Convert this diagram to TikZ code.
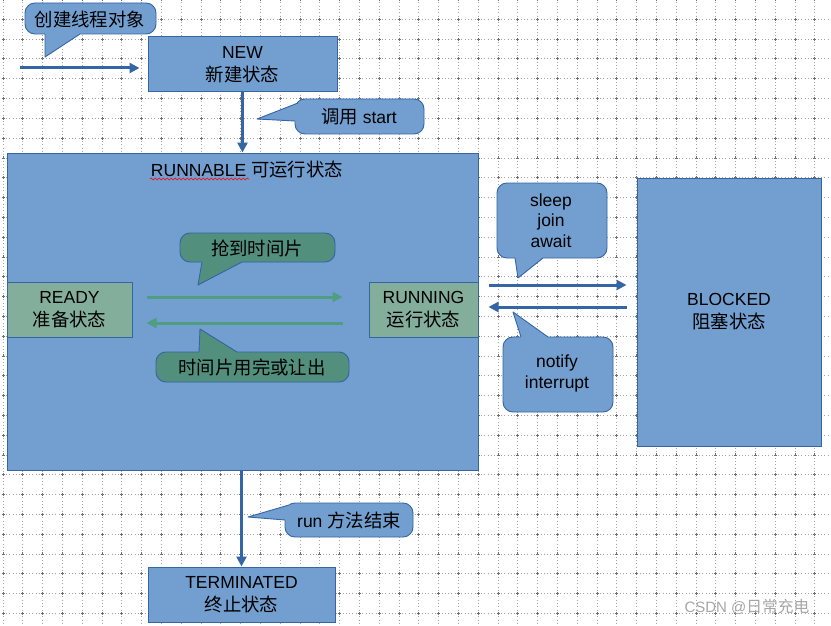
\documentclass[tikz,border=0pt]{standalone}
\usepackage{fontspec}
\setmainfont{Liberation Sans}
\newfontfamily\cjk[Scale=1.05]{Noto Sans CJK SC}
\usetikzlibrary{arrows.meta,decorations.pathmorphing,calc}
\definecolor{bfill}{HTML}{729FCF}
\definecolor{bline}{HTML}{3465A4}
\definecolor{gfill}{HTML}{84AE9C}
\definecolor{gcall}{HTML}{528F7C}
\definecolor{garr}{HTML}{4F9E80}
\definecolor{dotc}{HTML}{A4A4A4}
\definecolor{crossc}{HTML}{707070}
\definecolor{wmark}{HTML}{A6A6A6}
\newcommand\mycallout[9]{%
  \draw[cline, fill=#1, rounded corners=10pt] (#2,#3) rectangle (#4,#5);
  \fill[#1] ($#6+#9$) -- #6 -- #7 -- #8 -- ($#8+#9$) -- cycle;
  \draw[cline] #6 -- #7 -- #8;
}
\begin{document}
\begin{tikzpicture}[x=1pt, y=-1pt,
  font=\fontsize{17.5}{23}\selectfont,
  box/.style={draw=bline, line width=1pt, fill=bfill, inner sep=0pt, align=center},
  gbox/.style={box, fill=gfill},
  cline/.style={draw=bline, line width=0.9pt, line join=round},
  barrow/.style={draw=bline, line width=3pt, -{Triangle[length=10pt,width=10pt]}},
  garrow/.style={draw=garr, line width=3pt, -{Triangle[length=10pt,width=10pt]}},
  lbl/.style={align=center, inner sep=0pt}]
\useasboundingbox (0,0) rectangle (831,626);
\clip (0,0) rectangle (831,626);
\fill[white] (0,0) rectangle (831,626);
% grid
\foreach \i in {0,...,41}{
  \draw[dotc, line width=0.8pt, dash pattern=on 0.8pt off 2.5pt] ({3+19.8*\i},-0.9) -- ({3+19.8*\i},640);
  \draw[crossc, line width=0.8pt, dash pattern=on 3pt off 16.8pt] ({3+19.8*\i},-2) -- ({3+19.8*\i},640);
}
\foreach \j in {0,...,32}{
  \draw[dotc, line width=0.8pt, dash pattern=on 0.8pt off 2.5pt] (2.6,{-0.5+19.8*\j}) -- (840,{-0.5+19.8*\j});
  \draw[crossc, line width=0.8pt, dash pattern=on 3pt off 16.8pt] (1.5,{-0.5+19.8*\j}) -- (840,{-0.5+19.8*\j});
}
% boxes
\node[box, minimum width=189pt, minimum height=55pt] (new) at (242.5,64.5) {NEW\\{\cjk 新建状态}};
\node[box, minimum width=471pt, minimum height=317pt] (runnable) at (242.5,311.5) {};
\node[lbl] (title) at (247,170) {RUNNABLE {\cjk 可运行状态}};
\draw[red, line width=0.6pt, decorate, decoration={snake, amplitude=0.9pt, segment length=4pt}] (150,179) -- (249,179);
\node[gbox, minimum width=125pt, minimum height=55pt] (ready) at (69.5,309.5) {READY\\{\cjk 准备状态}};
\node[gbox, minimum width=109pt, minimum height=55pt] (running) at (423.5,309.5) {RUNNING\\{\cjk 运行状态}};
\node[box, minimum width=184pt, minimum height=268pt] (blocked) at (729,312) {BLOCKED\\{\cjk 阻塞状态}};
\node[box, minimum width=187pt, minimum height=55pt] (term) at (241.5,594.5) {TERMINATED\\{\cjk 终止状态}};
% connectors
\coordinate (entry) at (20,68);
\draw[barrow, shorten >=8pt] (entry) -- (entry -| new.west);
\draw[barrow] (new.south) -- (new.south |- runnable.north);
\draw[barrow] (term.north |- runnable.south) -- (term.north);
\draw[garrow, shorten <=14pt, shorten >=26pt] (ready.east |- 0,297) -- (running.west |- 0,297);
\draw[garrow, shorten <=26pt, shorten >=14pt] (running.west |- 0,323) -- (ready.east |- 0,323);
\draw[barrow, shorten <=10pt, shorten >=10pt] (runnable.east |- 0,285) -- (blocked.west |- 0,285);
\draw[barrow, shorten <=10pt, shorten >=10pt] (blocked.west |- 0,307) -- (runnable.east |- 0,307);
% callouts
\mycallout{bfill}{25}{3}{156}{34}{(45,34)}{(45,57)}{(80,34)}{(0,-3)}
\node[lbl] (c1) at (90,19) {\cjk 创建线程对象};
\mycallout{bfill}{295}{99}{424}{134}{(298,103)}{(257,119)}{(295,121)}{(3,0)}
\node[lbl] (c2) at (359,117) {{\cjk 调用} start};
\mycallout{gcall}{180}{233}{335}{262}{(202,262)}{(198,285)}{(242,262)}{(0,-3)}
\node[lbl] (c3) at (257,248) {\cjk 抢到时间片};
\mycallout{gcall}{156}{352}{349}{382}{(199,352)}{(200,329)}{(237,352)}{(0,3)}
\node[lbl] (c4) at (252,367) {\cjk 时间片用完或让出};
\mycallout{bfill}{497}{183}{607}{258}{(515,258)}{(518,278)}{(543,258)}{(0,-3)}
\node[lbl, font=\fontsize{17.5}{20.5}\selectfont] (c5) at (551,220.5) {sleep\\join\\await};
\mycallout{bfill}{503}{337}{613}{412}{(521,337)}{(513,312)}{(548,337)}{(0,3)}
\node[lbl, font=\fontsize{17.5}{21}\selectfont] (c6) at (557,373.5) {notify\\interrupt};
\mycallout{bfill}{285}{503}{413}{537}{(289,505)}{(248,517)}{(285,520)}{(3,0)}
\node[lbl] (c7) at (349,520) {run {\cjk 方法结束}};
% watermark
\node[lbl, text=wmark, font=\fontsize{15}{18}\selectfont] (wm) at (747,607) {CSDN @{\cjk 日常充电}};
\end{tikzpicture}
\end{document}
